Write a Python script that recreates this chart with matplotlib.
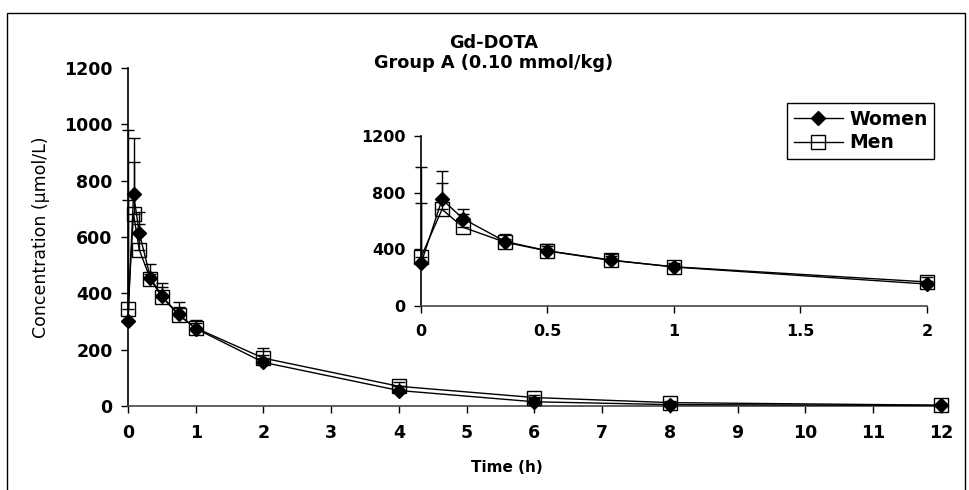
import matplotlib
matplotlib.use("Agg")
import matplotlib.pyplot as plt
from matplotlib.patches import Rectangle

plt.rcParams['font.family'] = ['DejaVu Sans']

# tempos de coleta (h)
tempo = [0, 0.083, 0.167, 0.333, 0.5, 0.75, 1, 2, 4, 6, 8, 12]

# concentracoes medias (umol/L)
mulheres = [300, 752, 615, 455, 390, 325, 275, 155, 55, 15, 5, 2]
homens = [345, 682, 555, 450, 388, 322, 277, 170, 70, 30, 12, 3]

# desvio padrao (so a parte de cima e desenhada)
sd_mulheres = [680, 200, 72, 50, 45, 45, 30, 25, 15, 10, 5, 0]
sd_homens = [385, 184, 92, 20, 36, 28, 18, 37, 15, 8, 6, 0]

titulo = "Gd-DOTA\nGroup A (0.10 mmol/kg)"


def desenha(ax, tmax, ms_d, ms_s, cap):
    idx = [i for i, t in enumerate(tempo) if t <= tmax]
    t = [tempo[i] for i in idx]
    w = [mulheres[i] for i in idx]
    m = [homens[i] for i in idx]
    sw = [sd_mulheres[i] for i in idx]
    sm = [sd_homens[i] for i in idx]
    ax.errorbar(t, m, yerr=[[0] * len(sm), sm], fmt='none', ecolor='black',
                elinewidth=1, capsize=cap, capthick=1, clip_on=False, zorder=2)
    ax.errorbar(t, w, yerr=[[0] * len(sw), sw], fmt='none', ecolor='black',
                elinewidth=1, capsize=cap, capthick=1, clip_on=False, zorder=2)
    ax.plot(t, w, color='black', lw=1, marker='D', ms=ms_d, mfc='black',
            mec='black', clip_on=False, zorder=3, label='Women')
    ax.plot(t, m, color='black', lw=1, marker='s', ms=ms_s, mfc='none',
            mec='black', mew=1, clip_on=False, zorder=4, label='Men')


def estilo(ax, tam):
    for lado in ['top', 'right']:
        ax.spines[lado].set_visible(False)
    ax.spines['left'].set_linewidth(1.2)
    ax.spines['bottom'].set_linewidth(1.2)
    ax.spines['bottom'].set_color('#444444')
    ax.tick_params(direction='out', length=5, width=1, labelsize=tam, pad=6)
    ax.tick_params(axis='x', pad=8)
    for lbl in ax.get_xticklabels() + ax.get_yticklabels():
        lbl.set_fontweight('bold')


fig = plt.figure(figsize=(9.69, 4.9), dpi=100)
fig.patches.append(Rectangle((7 / 969, -0.01), 958 / 969, 1 - 13 / 490 + 0.01,
                             transform=fig.transFigure, fill=False,
                             edgecolor='black', lw=1))

ax = fig.add_axes([0.132, 0.1714, 0.839, 0.690])
desenha(ax, 12, 7.5, 9.5, 4.5)
ax.set_xlim(0, 12)
ax.set_ylim(0, 1200)
ax.set_xticks(range(0, 13))
ax.set_yticks(range(0, 1201, 200))
estilo(ax, 12.5)
ax.set_ylabel("Concentration (µmol/L)", fontsize=12.5)
ax.yaxis.set_label_coords(-0.096, 0.5)
ax.set_xlabel("Time (h)", fontsize=11, fontweight='bold')
ax.xaxis.set_label_coords(0.466, -0.16)

fig.text(0.509, 0.892, titulo, ha='center', va='center', fontsize=12.8,
         fontweight='bold', linespacing=1.15)

ins = fig.add_axes([0.4345, 0.3755, 0.522, 0.347])
ins.patch.set_alpha(0)
desenha(ins, 2, 7.5, 9.5, 4.5)
ins.set_xlim(0, 2)
ins.set_ylim(0, 1200)
ins.set_xticks([0, 0.5, 1, 1.5, 2])
ins.set_xticklabels(['0', '0.5', '1', '1.5', '2'])
ins.set_yticks([0, 400, 800, 1200])
estilo(ins, 11.5)

leg = ins.legend(loc='upper right', bbox_to_anchor=(934 / 969, 1 - 103 / 490),
                 bbox_transform=fig.transFigure, borderaxespad=0,
                 frameon=True, fancybox=False, edgecolor='black', framealpha=1,
                 prop={'weight': 'bold', 'size': 13.5}, handlelength=2.6,
                 handletextpad=0.35, borderpad=0.35, labelspacing=0.25)
leg.get_frame().set_linewidth(1)

fig.savefig("out.png", dpi=100)
